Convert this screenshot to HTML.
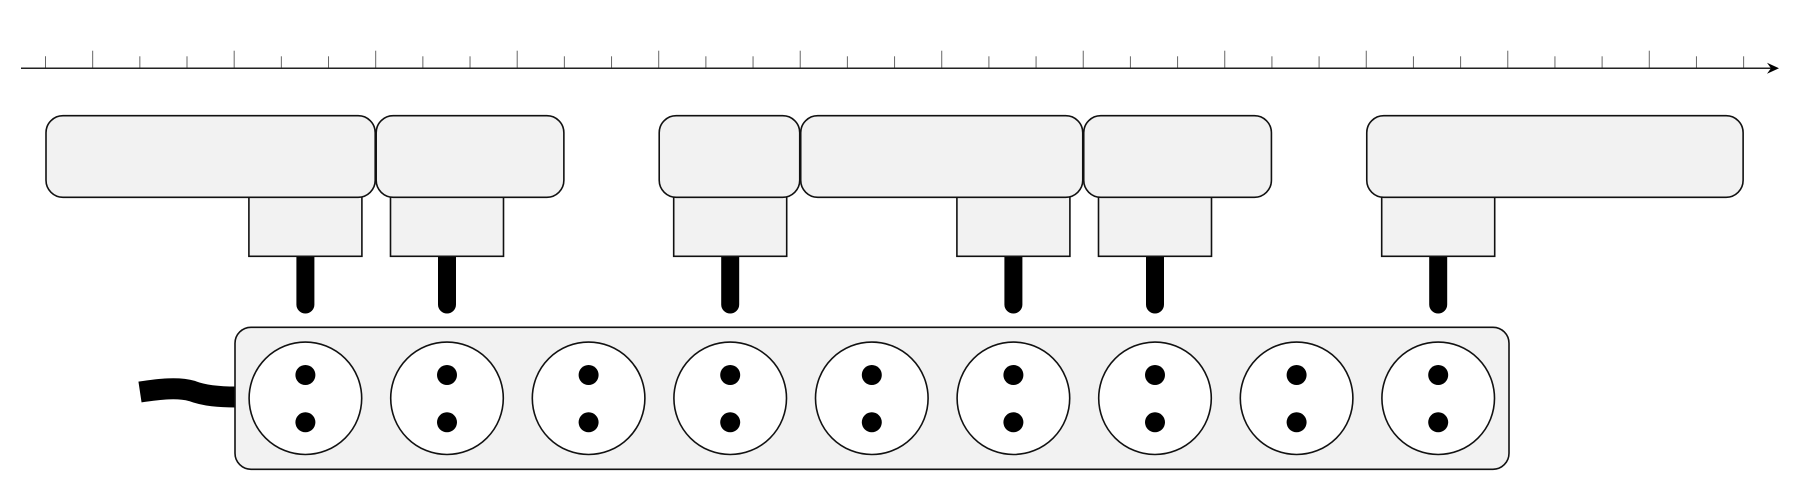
<!DOCTYPE html>
<html><head><meta charset="utf-8"><style>html,body{margin:0;padding:0;background:#fff}svg{display:block}</style></head>
<body>
<svg width="1802" height="491" viewBox="0 0 1802 491" xmlns="http://www.w3.org/2000/svg">
<g id="ticks" stroke="#666" stroke-width="1"></g>
<line x1="21" y1="68.3" x2="1772" y2="68.3" stroke="#222" stroke-width="1.5"/>
<path d="M1779,68.3 L1767,62.8 L1771,68.3 L1767,73.8 Z" fill="#000"/>
<g id="dev" fill="#f2f2f2" stroke="#111" stroke-width="1.6"></g>
<path d="M140,392 C160,389 178,387 192,391 C205,396 220,397 236,397" fill="none" stroke="#000" stroke-width="21"/>
<rect x="235" y="327.3" width="1274" height="142" rx="16" fill="#f2f2f2" stroke="#111" stroke-width="1.6"/>
<g id="sock"></g>
<script>
var ns="http://www.w3.org/2000/svg",x0=45.5,s=47.17;
function el(p,t,a){var e=document.createElementNS(ns,t);for(var k in a)e.setAttribute(k,a[k]);p.appendChild(e);return e;}
var tk=document.getElementById('ticks');
for(var k=0;k<=36;k++){var x=x0+s*k;el(tk,'line',{x1:x,x2:x,y1:(k%3==1?50.7:56.3),y2:68.3});}
var d=document.getElementById('dev');
var boxes=[[0,7],[7,11],[13,16],[16,22],[22,26],[28,36]];
var sc=function(i){return 305.4+141.6*i;};
var plugs=[0,1,3,5,6,8];
plugs.forEach(function(i){var c=sc(i);
 el(d,'line',{x1:c,x2:c,y1:252,y2:304.5,stroke:'#000','stroke-width':18,'stroke-linecap':'round'});
 el(d,'rect',{x:c-56.5,y:195,width:113,height:61.3});});
boxes.forEach(function(b){var a=x0+s*b[0]+0.5,e=x0+s*b[1]-0.5;
 el(d,'rect',{x:a,y:115.7,width:e-a,height:81.6,rx:17});});
var so=document.getElementById('sock');
for(var i=0;i<9;i++){var c=sc(i);
 el(so,'ellipse',{cx:c,cy:398.3,rx:56.3,ry:56.2,fill:'#fff',stroke:'#111','stroke-width':1.6});
 el(so,'ellipse',{cx:c,cy:375,rx:10,ry:10,fill:'#000'});
 el(so,'ellipse',{cx:c,cy:422.3,rx:10,ry:10,fill:'#000'});}
</script>
</svg>
</body></html>
